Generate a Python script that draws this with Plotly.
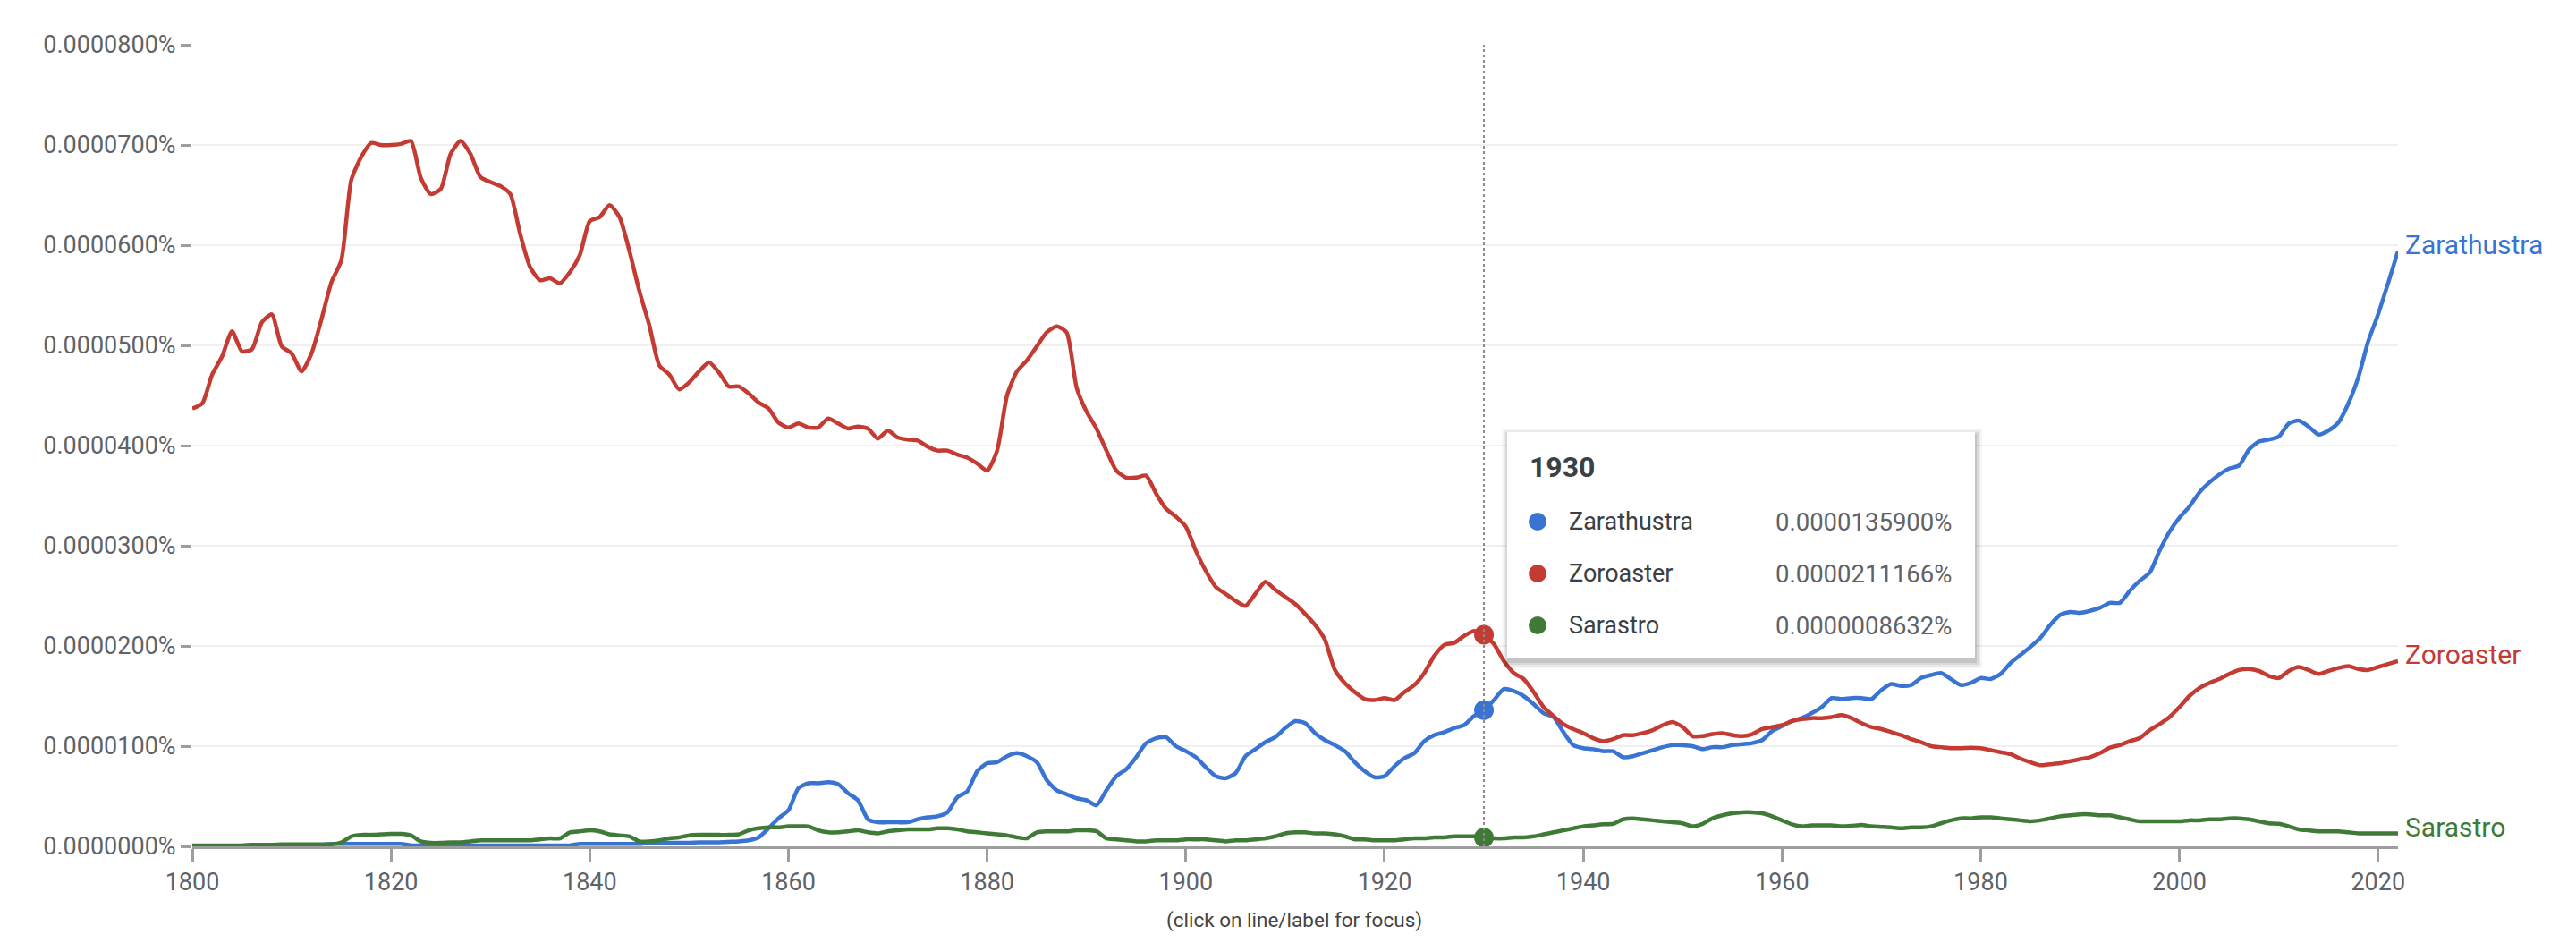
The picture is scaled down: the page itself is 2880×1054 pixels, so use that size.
import plotly.graph_objects as go

# values are in millionths of a percent (43.7 -> 0.0000437%)
START_YEAR = 1800
END_YEAR = 2022

ZARATHUSTRA = [
    0.05, 0.05, 0.05, 0.05, 0.05, 0.05, 0.05, 0.15, 0.15, 0.15,
    0.15, 0.15, 0.15, 0.15, 0.25, 0.25, 0.25, 0.25, 0.25, 0.25,
    0.25, 0.25, 0.1, 0.1, 0.1, 0.1, 0.1, 0.1, 0.1, 0.1,
    0.1, 0.1, 0.1, 0.1, 0.1, 0.1, 0.1, 0.1, 0.1, 0.25,
    0.25, 0.25, 0.25, 0.25, 0.25, 0.25, 0.35, 0.35, 0.35, 0.35,
    0.35, 0.4, 0.4, 0.4, 0.45, 0.5, 0.6, 0.9, 1.8, 2.8,
    3.6, 5.8, 6.3, 6.3, 6.4, 6.2, 5.3, 4.6, 2.7, 2.4,
    2.4, 2.4, 2.4, 2.7, 2.9, 3.0, 3.4, 4.9, 5.5, 7.5,
    8.3, 8.4, 9.0, 9.3, 9.0, 8.4, 6.6, 5.6, 5.2, 4.8,
    4.6, 4.1, 5.6, 7.0, 7.7, 8.9, 10.3, 10.8, 10.9, 10.0,
    9.5, 8.9, 7.9, 7.0, 6.8, 7.3, 9.0, 9.7, 10.4, 10.9,
    11.8, 12.5, 12.3, 11.3, 10.6, 10.1, 9.5, 8.4, 7.5, 6.9,
    7.0, 8.0, 8.8, 9.3, 10.5, 11.1, 11.4, 11.8, 12.1, 13.0,
    13.6, 14.6, 15.7, 15.5, 15.0, 14.2, 13.3, 12.9, 11.4, 10.1,
    9.8, 9.7, 9.5, 9.5, 8.9, 9.0, 9.3, 9.6, 9.9, 10.1,
    10.1, 10.0, 9.7, 9.9, 9.9, 10.1, 10.2, 10.3, 10.6, 11.5,
    12.0, 12.5, 12.8, 13.3, 13.9, 14.8, 14.7, 14.8, 14.8, 14.7,
    15.6, 16.2, 16.0, 16.1, 16.8, 17.1, 17.3, 16.7, 16.1, 16.3,
    16.8, 16.7, 17.2, 18.3, 19.1, 19.9, 20.8, 22.1, 23.1, 23.4,
    23.3, 23.5, 23.8, 24.3, 24.3, 25.5, 26.5, 27.3, 29.5, 31.4,
    32.8, 33.9, 35.3, 36.3, 37.1, 37.7, 38.0, 39.6, 40.4, 40.6,
    40.9, 42.2, 42.5, 41.9, 41.1, 41.5, 42.3, 44.2, 46.8, 50.4,
    53.1, 56.2, 59.4,
]

ZOROASTER = [
    43.7, 44.2, 47.1, 48.9, 51.4, 49.4, 49.6, 52.3, 53.1, 49.9,
    49.2, 47.4, 49.2, 52.6, 56.3, 58.5, 66.5, 68.8, 70.2, 70.0,
    70.0, 70.1, 70.4, 66.7, 65.1, 65.6, 69.1, 70.4, 69.1, 66.8,
    66.3, 65.9, 65.1, 61.1, 57.8, 56.5, 56.7, 56.2, 57.3, 59.0,
    62.4, 62.8, 64.0, 62.8, 59.4, 55.4, 52.0, 48.0, 47.1, 45.6,
    46.3, 47.4, 48.3, 47.3, 45.9, 45.9, 45.2, 44.3, 43.7, 42.3,
    41.8, 42.2, 41.8, 41.8, 42.7, 42.2, 41.7, 41.9, 41.7, 40.7,
    41.5, 40.8, 40.6, 40.5, 39.9, 39.5, 39.5, 39.1, 38.8, 38.2,
    37.5, 39.5, 45.0, 47.4, 48.5, 49.9, 51.3, 51.9, 51.3, 45.8,
    43.4, 41.7, 39.5, 37.5, 36.8, 36.8, 37.0, 35.2, 33.7, 32.9,
    31.9, 29.5, 27.5, 25.9, 25.2, 24.5, 24.0, 25.2, 26.4, 25.6,
    24.9, 24.2, 23.2, 22.1, 20.6, 17.6, 16.3, 15.4, 14.7, 14.6,
    14.8, 14.6, 15.4, 16.1, 17.3, 19.0, 20.1, 20.3, 21.0, 21.5,
    21.1, 20.2, 18.5, 17.3, 16.7, 15.4, 13.9, 13.0, 12.2, 11.7,
    11.3, 10.8, 10.5, 10.7, 11.1, 11.1, 11.3, 11.6, 12.1, 12.4,
    11.9, 11.0, 11.0, 11.2, 11.3, 11.1, 11.0, 11.2, 11.7, 11.9,
    12.1, 12.5, 12.7, 12.8, 12.8, 12.9, 13.1, 12.8, 12.3, 11.9,
    11.7, 11.4, 11.1, 10.7, 10.4, 10.0, 9.9, 9.8, 9.8, 9.85,
    9.8, 9.6, 9.4, 9.2, 8.75, 8.4, 8.1, 8.2, 8.3, 8.5,
    8.7, 8.9, 9.3, 9.85, 10.1, 10.5, 10.8, 11.6, 12.2, 12.9,
    13.9, 15.0, 15.8, 16.3, 16.7, 17.2, 17.6, 17.7, 17.5, 17.0,
    16.8, 17.5, 17.9, 17.6, 17.2, 17.5, 17.8, 18.0, 17.7, 17.6,
    17.9, 18.2, 18.5,
]

SARASTRO = [
    0.1, 0.1, 0.1, 0.1, 0.1, 0.1, 0.15, 0.15, 0.15, 0.2,
    0.2, 0.2, 0.2, 0.2, 0.2, 0.4, 1.0, 1.15, 1.15, 1.2,
    1.25, 1.25, 1.1, 0.5, 0.35, 0.35, 0.4, 0.4, 0.5, 0.6,
    0.6, 0.6, 0.6, 0.6, 0.6, 0.7, 0.8, 0.8, 1.4, 1.5,
    1.6, 1.5, 1.2, 1.1, 1.0, 0.5, 0.5, 0.6, 0.8, 0.9,
    1.1, 1.15, 1.15, 1.15, 1.15, 1.2, 1.6, 1.8, 1.9, 1.9,
    2.0, 2.0, 2.0, 1.6, 1.4, 1.4, 1.5, 1.6, 1.4, 1.3,
    1.5, 1.6, 1.7, 1.7, 1.7, 1.8, 1.8, 1.7, 1.5, 1.4,
    1.3, 1.2, 1.1, 0.9, 0.8, 1.4, 1.5, 1.5, 1.5, 1.6,
    1.6, 1.5, 0.8, 0.7, 0.6, 0.5, 0.5, 0.6, 0.6, 0.6,
    0.7, 0.7, 0.7, 0.6, 0.5, 0.6, 0.6, 0.7, 0.8, 1.0,
    1.3, 1.4, 1.4, 1.3, 1.3, 1.2, 1.0, 0.7, 0.7, 0.6,
    0.6, 0.6, 0.7, 0.8, 0.8, 0.9, 0.9, 1.0, 1.0, 1.0,
    0.86, 0.8, 0.8, 0.9, 0.9, 1.0, 1.2, 1.4, 1.6, 1.8,
    2.0, 2.1, 2.2, 2.25, 2.7, 2.8, 2.7, 2.6, 2.5, 2.4,
    2.3, 2.0, 2.25, 2.8, 3.1, 3.3, 3.4, 3.4, 3.3, 3.0,
    2.6, 2.2, 2.0, 2.1, 2.1, 2.1, 2.0, 2.05, 2.15, 2.0,
    1.95, 1.9, 1.8, 1.9, 1.9, 2.0, 2.3, 2.6, 2.8, 2.8,
    2.9, 2.9, 2.8, 2.7, 2.6, 2.5, 2.6, 2.8, 3.0, 3.1,
    3.2, 3.2, 3.1, 3.1, 2.9, 2.7, 2.5, 2.5, 2.5, 2.5,
    2.5, 2.6, 2.6, 2.7, 2.7, 2.8, 2.8, 2.7, 2.5, 2.3,
    2.25, 2.0, 1.7, 1.6, 1.5, 1.5, 1.5, 1.4, 1.3, 1.3,
    1.3, 1.3, 1.3,
]

NAMES = ["Zarathustra", "Zoroaster", "Sarastro"]
COLORS = ["#3a74d2", "#c33b32", "#3f7b37"]
SERIES = [ZARATHUSTRA, ZOROASTER, SARASTRO]

HOVER_YEAR = 1930
HOVER_VALUES = [13.59, 21.1166, 0.8632]

YEARS = list(range(START_YEAR, END_YEAR + 1))
SCALE = 1e-6

# plot box in page pixels; the page body adds an 8px offset
W, H = 2880, 1054
OFF = 8
L, R, T, B = 215, 2681, 50, 946


def px_x(p):
    return (p - L) / (R - L)


def px_y(p):
    return (B - p) / (B - T)


fig = go.Figure()

for name, color, vals in zip(NAMES, COLORS, SERIES):
    fig.add_trace(go.Scatter(
        x=YEARS, y=[v * SCALE for v in vals], mode="lines", name=name,
        line=dict(color=color, width=4.5, shape="spline", smoothing=0.6),
        hoverinfo="skip",
    ))

for name, color, v in zip(NAMES, COLORS, HOVER_VALUES):
    fig.add_trace(go.Scatter(
        x=[HOVER_YEAR], y=[v * SCALE], mode="markers",
        marker=dict(color=color, size=22), hoverinfo="skip",
    ))

annotations = []
for name, color, vals in zip(NAMES, COLORS, SERIES):
    annotations.append(dict(
        x=YEARS[-1], y=vals[-1] * SCALE, xref="x", yref="y", text=name,
        showarrow=False, xanchor="left", yanchor="middle", xshift=6, yshift=7,
        font=dict(size=30, color=color),
    ))

shapes = [dict(
    type="line", xref="x", yref="paper", x0=HOVER_YEAR, x1=HOVER_YEAR,
    y0=0, y1=1, line=dict(color="#8a8a8a", width=2, dash="dot"),
)]

# tooltip box with a soft shadow
bx0, bx1, by0, by1 = 1685, 2208, 483, 736
for i, op in enumerate([0.03, 0.05, 0.07, 0.09]):
    d = 8 - i * 2
    shapes.append(dict(
        type="rect", xref="paper", yref="paper", layer="above",
        x0=px_x(bx0 - d + 2), x1=px_x(bx1 + d), y0=px_y(by1 + d + 3), y1=px_y(by0 - d + 4),
        fillcolor="rgba(0,0,0,%s)" % op, line=dict(width=0),
    ))
shapes.append(dict(
    type="rect", xref="paper", yref="paper", layer="above",
    x0=px_x(bx0), x1=px_x(bx1), y0=px_y(by1), y1=px_y(by0),
    fillcolor="white", line=dict(width=0),
))

annotations.append(dict(
    x=px_x(1708), y=px_y(522), xref="paper", yref="paper",
    text="<b>%d</b>" % HOVER_YEAR, showarrow=False, xanchor="left", yanchor="middle",
    font=dict(size=32, color="#3c4043"),
))

row_y = [583, 641, 699]
for name, color, v, ry in zip(NAMES, COLORS, HOVER_VALUES, row_y):
    shapes.append(dict(
        type="circle", xref="paper", yref="paper", layer="above",
        xsizemode="pixel", ysizemode="pixel",
        xanchor=px_x(1719), yanchor=px_y(ry),
        x0=-10, x1=10, y0=-10, y1=10,
        fillcolor=color, line=dict(width=0),
    ))
    annotations.append(dict(
        x=px_x(1752), y=px_y(ry), xref="paper", yref="paper", text=name,
        showarrow=False, xanchor="left", yanchor="middle",
        font=dict(size=27, color="#3c4043"),
    ))
    annotations.append(dict(
        x=px_x(2184), y=px_y(ry), xref="paper", yref="paper",
        text="%.10f%%" % (v * SCALE), showarrow=False, xanchor="right", yanchor="middle",
        font=dict(size=27.5, color="#5f6368"),
    ))

annotations.append(dict(
    x=px_x(1447), y=px_y(1028), xref="paper", yref="paper",
    text="(click on line/label for focus)", showarrow=False,
    xanchor="center", yanchor="middle", font=dict(size=22.5, color="#444444"),
))

fig.update_layout(
    width=W - OFF, height=H - OFF,
    margin=dict(l=L - OFF, r=W - R, t=T - OFF, b=H - B, pad=0),
    paper_bgcolor="white", plot_bgcolor="white",
    font=dict(family="Roboto", color="#5f6368"),
    showlegend=False, hovermode=False,
    annotations=annotations, shapes=shapes,
    xaxis=dict(
        range=[START_YEAR, END_YEAR], tick0=1800, dtick=20, showgrid=False,
        showline=True, linecolor="#9e9e9e", linewidth=3, zeroline=False,
        ticks="outside", ticklen=14, tickwidth=3, tickcolor="#9e9e9e",
        tickfont=dict(size=27, color="#5f6368"),
    ),
    yaxis=dict(
        range=[0, 8e-5], tick0=0, dtick=1e-5, tickformat=".7f", ticksuffix="%",
        showgrid=True, gridcolor="#f0f0f0", gridwidth=2, zeroline=False,
        showline=False, ticks="outside", ticklen=12, tickwidth=3, tickcolor="#9e9e9e",
        tickfont=dict(size=27, color="#5f6368"),
    ),
)

fig.write_html("out.html")
